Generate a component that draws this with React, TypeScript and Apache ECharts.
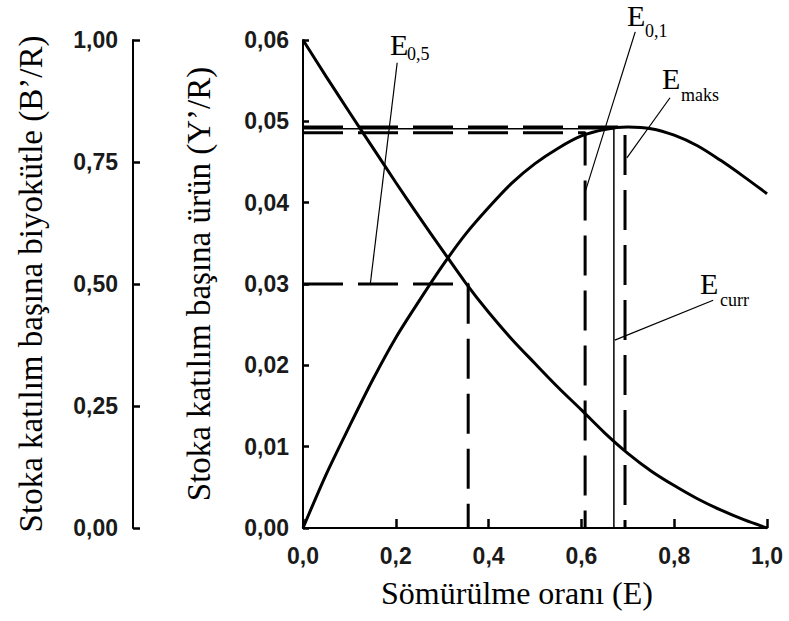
import React, { useEffect, useRef } from "react";
import * as echarts from "echarts";

// Exploitation rate (E) grid
const E_VALUES = [0, 0.05, 0.1, 0.15, 0.2, 0.25, 0.3, 0.35, 0.4, 0.45, 0.5, 0.55, 0.6, 0.65, 0.7, 0.75, 0.8, 0.85, 0.9, 0.95, 1.0];
// Yield per recruit (Y'/R)
const YR_VALUES = [0, 0.0066, 0.0125, 0.0182, 0.0234, 0.0279, 0.0322, 0.0361, 0.0394, 0.0424, 0.0448, 0.0467, 0.0482, 0.049, 0.0493, 0.0491, 0.0483, 0.047, 0.0452, 0.0432, 0.0411];
// Relative biomass per recruit (B'/R)
const BR_VALUES = [1.0, 0.925, 0.852, 0.78, 0.708, 0.638, 0.57, 0.503, 0.442, 0.387, 0.337, 0.288, 0.242, 0.195, 0.153, 0.117, 0.087, 0.06, 0.037, 0.017, 0.0];

// Reference points
const E_05 = 0.356;
const YR_05 = 0.03;
const E_01 = 0.608;
const YR_01 = 0.0486;
const E_MAKS = 0.694;
const YR_MAKS = 0.0493;
const E_CURR = 0.67;
const YR_CURR = 0.0491;

// Tick labels
const X_TICK_LABELS = ["0,0", "0,2", "0,4", "0,6", "0,8", "1,0"];
const BR_TICK_LABELS = ["0,00", "0,25", "0,50", "0,75", "1,00"];
const YR_TICK_LABELS = ["0,00", "0,01", "0,02", "0,03", "0,04", "0,05", "0,06"];

// Leader lines of annotations [E, Y'/R] start -> end
const LEADER_05 = [[0.203, 0.0572], [0.145, 0.03]];
const LEADER_01 = [[0.716, 0.061], [0.608, 0.0413]];
const LEADER_MAKS = [[0.791, 0.0529], [0.698, 0.0455]];
const LEADER_CURR = [[0.884, 0.028], [0.672, 0.0231]];

const SERIF = '"Liberation Serif", "Times New Roman", serif';
const SANS = '"Liberation Sans", Arial, sans-serif';

export default function App() {
  const ref = useRef<HTMLDivElement>(null);

  useEffect(() => {
    if (!ref.current) return;
    const chart = echarts.init(ref.current, undefined, { renderer: "svg" });

    const axisLineStyle = { color: "#000", width: 2 };
    const tickStyle = { color: "#000", width: 2.5 };
    const tickLabelStyle = {
      fontFamily: SANS,
      fontSize: 23,
      fontWeight: "bold" as const,
      color: "#1a1a1a",
    };

    const dashed = (w: number) => ({ color: "#000", width: w, type: [40, 15] as any });

    const mkLine = (name: string, data: number[][], lineStyle: any) => ({
      name,
      type: "line",
      xAxisIndex: 0,
      yAxisIndex: 1,
      data,
      symbol: "none",
      silent: true,
      clip: false,
      lineStyle,
      z: 3,
    });

    const annot = (
      e: string,
      sub: string,
      ex: number,
      ey: number,
      sx: number,
      sy: number
    ) => [
      {
        type: "text",
        x: ex,
        y: ey,
        style: {
          text: e,
          font: `30px ${SERIF}`,
          fill: "#000",
          textAlign: "left",
          textVerticalAlign: "middle",
          align: "left",
          verticalAlign: "middle",
        },
      },
      {
        type: "text",
        x: sx,
        y: sy,
        style: {
          text: sub,
          font: `18px ${SERIF}`,
          fill: "#000",
          textAlign: "left",
          textVerticalAlign: "middle",
          align: "left",
          verticalAlign: "middle",
        },
      },
    ];

    const nameStyle = (size: number) => ({
      fontFamily: SERIF,
      fontSize: size,
      fontWeight: "normal" as const,
      color: "#000",
    });

    chart.setOption({
      animation: false,
      backgroundColor: "#fff",
      grid: { left: 303, right: 22, top: 40, bottom: 93, containLabel: false },
      xAxis: {
        type: "value",
        min: 0,
        max: 1,
        interval: 0.2,
        name: "Sömürülme oranı (E)",
        nameLocation: "middle",
        nameGap: 49,
        nameTextStyle: { ...nameStyle(32), padding: [0, 36, 0, 0] },
        axisLine: { show: true, onZero: false, lineStyle: axisLineStyle },
        axisTick: { show: true, inside: true, length: 9, lineStyle: tickStyle },
        axisLabel: {
          ...tickLabelStyle,
          margin: 16,
          showMinLabel: true,
          showMaxLabel: true,
          formatter: (v: number) => X_TICK_LABELS[Math.round(v / 0.2)] ?? "",
        },
        splitLine: { show: false },
      },
      yAxis: [
        {
          type: "value",
          position: "left",
          offset: 170,
          min: 0,
          max: 1,
          interval: 0.25,
          name: "Stoka katılım başına biyokütle (B’/R)",
          nameLocation: "middle",
          nameRotate: 90,
          nameGap: 86,
          nameTextStyle: nameStyle(33),
          axisLine: { show: true, onZero: false, lineStyle: axisLineStyle },
          axisTick: { show: true, inside: true, length: 7, lineStyle: tickStyle },
          axisLabel: {
            ...tickLabelStyle,
            margin: 15,
            showMinLabel: true,
            showMaxLabel: true,
            formatter: (v: number) => BR_TICK_LABELS[Math.round(v / 0.25)] ?? "",
          },
          splitLine: { show: false },
        },
        {
          type: "value",
          position: "left",
          offset: 0,
          min: 0,
          max: 0.06,
          interval: 0.01,
          name: "Stoka katılım başına ürün (Y’/R)",
          nameLocation: "middle",
          nameRotate: 90,
          nameGap: 88,
          nameTextStyle: nameStyle(33),
          axisLine: { show: true, onZero: false, lineStyle: axisLineStyle },
          axisTick: { show: true, inside: true, length: 6, lineStyle: tickStyle },
          axisLabel: {
            ...tickLabelStyle,
            margin: 14,
            showMinLabel: true,
            showMaxLabel: true,
            formatter: (v: number) => YR_TICK_LABELS[Math.round(v / 0.01)] ?? "",
          },
          splitLine: { show: false },
        },
      ],
      series: [
        {
          name: "Y’/R",
          type: "line",
          xAxisIndex: 0,
          yAxisIndex: 1,
          data: E_VALUES.map((e, i) => [e, YR_VALUES[i]]),
          smooth: 0.3,
          symbol: "none",
          lineStyle: { color: "#000", width: 3 },
          z: 5,
        },
        {
          name: "B’/R",
          type: "line",
          xAxisIndex: 0,
          yAxisIndex: 0,
          data: E_VALUES.map((e, i) => [e, BR_VALUES[i]]),
          smooth: 0.3,
          symbol: "none",
          lineStyle: { color: "#000", width: 3 },
          z: 5,
        },
        mkLine("E0,5", [[0, YR_05], [E_05, YR_05], [E_05, 0]], dashed(3)),
        mkLine("E0,1", [[0, YR_01], [E_01, YR_01], [E_01, 0]], dashed(3)),
        mkLine("Emaks", [[0, YR_MAKS], [E_MAKS, YR_MAKS], [E_MAKS, 0]], dashed(3)),
        mkLine("Ecurr", [[0, YR_CURR], [E_CURR, YR_CURR], [E_CURR, 0]], { color: "#000", width: 1.5, type: "solid" }),
        mkLine("leader05", LEADER_05, { color: "#000", width: 1.2 }),
        mkLine("leader01", LEADER_01, { color: "#000", width: 1.2 }),
        mkLine("leaderMaks", LEADER_MAKS, { color: "#000", width: 1.2 }),
        mkLine("leaderCurr", LEADER_CURR, { color: "#000", width: 1.2 }),
      ],
      graphic: [
        ...annot("E", "0,5", 390, 44, 407, 54),
        ...annot("E", "0,1", 627, 15, 645, 31),
        ...annot("E", "maks", 662, 78, 681, 95),
        ...annot("E", "curr", 700, 283, 720, 300),
      ],
    });

    return () => {
      chart.dispose();
    };
  }, []);

  return (
    <div
      ref={ref}
      style={{ position: "fixed", left: 0, top: 0, width: 789, height: 621, background: "#fff" }}
    />
  );
}
